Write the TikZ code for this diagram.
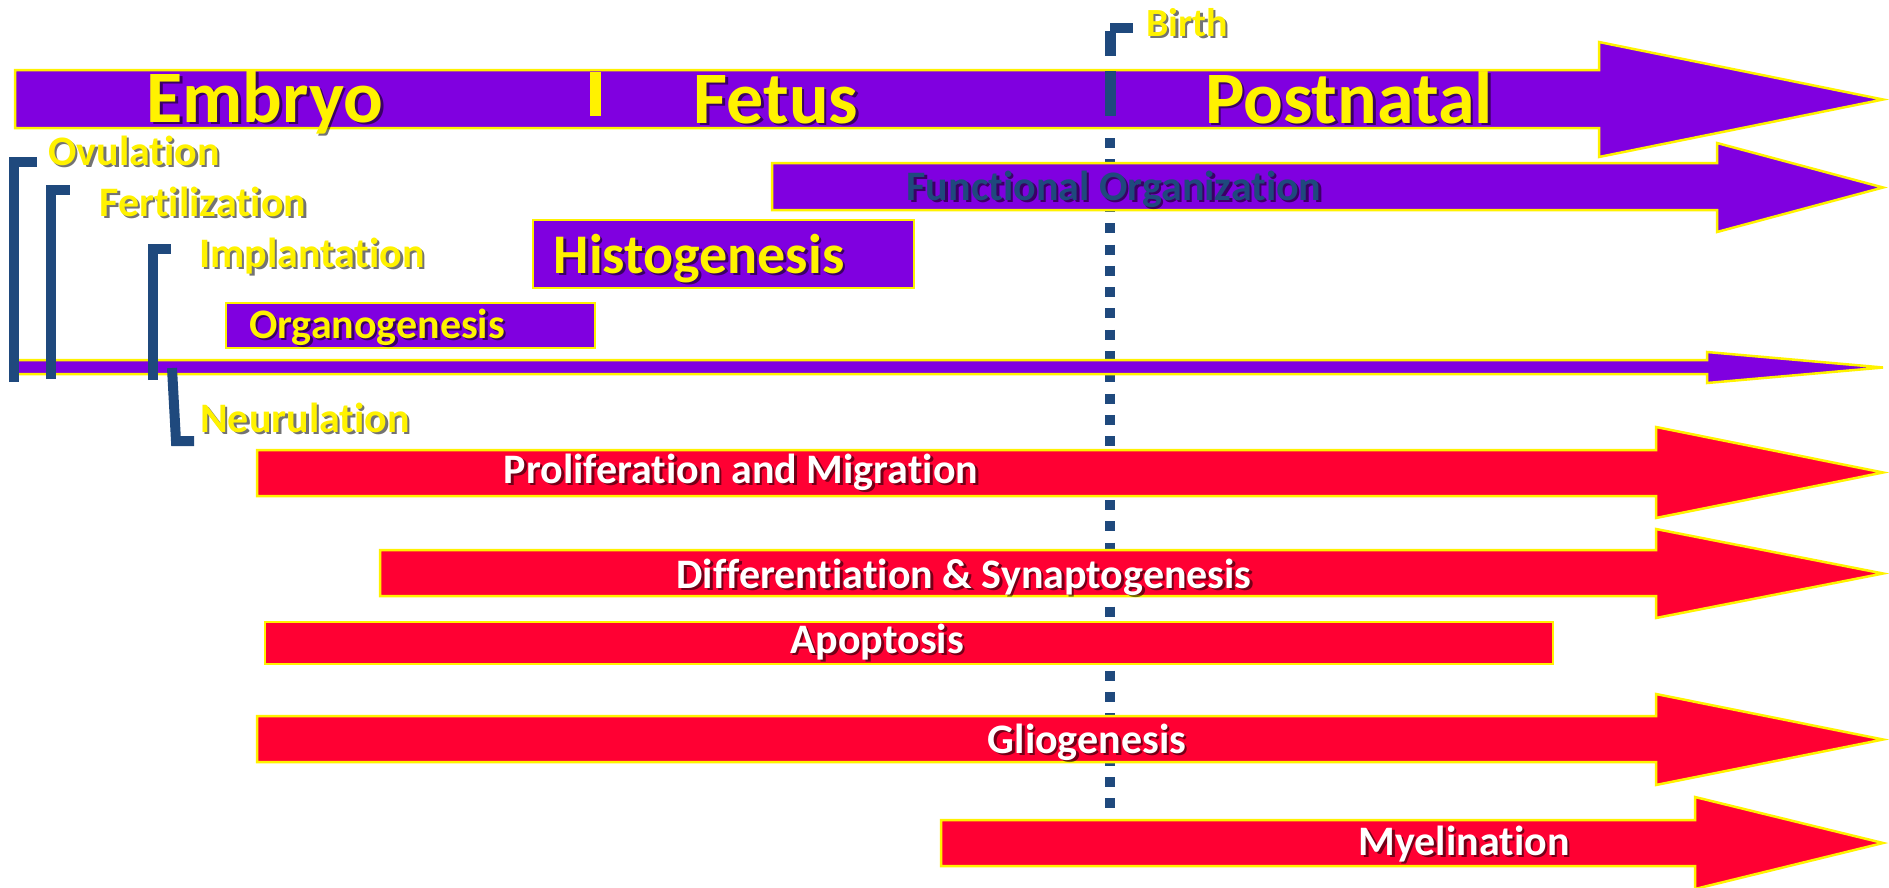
\documentclass[tikz,border=0pt]{standalone}
\usepackage{fontspec}
\setmainfont{Carlito}[Ligatures=NoCommon]
\definecolor{purp}{RGB}{128,0,224}
\definecolor{redbar}{RGB}{255,0,51}
\definecolor{navy}{RGB}{31,73,125}
\newcommand\shlabel[5]{%
  \node[#3,text=black,opacity=.55,anchor=base,xshift=2.5pt,yshift=-2.5pt] at (#2) {#5};
  \node[#3,text=#4,anchor=base] (#1) at (#2) {#5};}
\begin{document}
\begin{tikzpicture}[x=1pt,y=-1pt,line join=miter,
  bar/.style={draw=yellow,line width=2.5pt},
  bracket/.style={draw=navy,line width=10pt},
  stagefont/.style={font=\fontsize{74}{80}\selectfont\bfseries},
  histfont/.style={font=\fontsize{56}{62}\selectfont\bfseries},
  eventfont/.style={font=\fontsize{42}{48}\selectfont\bfseries},
  birthfont/.style={font=\fontsize{40}{46}\selectfont\bfseries}]
\useasboundingbox (0,0) rectangle (1889,887);
\coordinate (B0) at (1110,138); \coordinate (B1) at (1110,810);
\draw[navy,line width=10pt,dash pattern=on 10pt off 11.3pt] (B0)--(B1);
\foreach \xa/\ya/\yb/\xh/\ha/\hb/\col in {15/70/128/1599/42/157/purp,772/163/210/1717/143/232/purp,15/360/374/1707/352/383/purp,257/450/496/1656/427/518/redbar,380/550/596/1656/529/618/redbar,257/716/762/1656/694/785/redbar,941/820/866/1695/797/889/redbar}
  \filldraw[bar,fill=\col] (\xa,\ya)--(\xh,\ya)--(\xh,\ha)--(1883,{(\ha+\hb)/2})--(\xh,\hb)--(\xh,\yb)--(\xa,\yb)--cycle;
\filldraw[bar,fill=purp] (226,303) rectangle (595,348);
\filldraw[bar,fill=purp] (533,220) rectangle (914,288);
\filldraw[bar,fill=redbar] (265,622) rectangle (1553,664);
\fill[yellow] (590,72) rectangle (601,116);
\fill[navy] (1105,71) rectangle (1116,116);
\fill[navy] (1105,31) rectangle (1116,56); \fill[navy] (1110,23) rectangle (1133,33);
\draw[bracket] (14,382)--(14,162)--(37,162);
\draw[bracket] (51,379)--(51,190)--(70,190);
\draw[bracket] (153,380)--(153,248.5)--(171,248.5);
\draw[bracket] (172,368)--(176,441)--(194,441);
\shlabel{embryo}{265,122}{stagefont}{yellow}{Embryo}
\shlabel{fetus}{776,123}{stagefont}{yellow}{Fetus}
\shlabel{postnatal}{1349,123}{stagefont}{yellow}{Postnatal}
\shlabel{birth}{1187,36}{birthfont}{yellow}{Birth}
\shlabel{ovul}{134,165}{eventfont}{yellow}{Ovulation}
\shlabel{fert}{203,216}{eventfont}{yellow}{Fertilization}
\shlabel{impl}{312,267}{eventfont}{yellow}{Implantation}
\shlabel{neur}{305,432}{eventfont}{yellow}{Neurulation}
\shlabel{organo}{377,338}{eventfont}{yellow}{Organogenesis}
\shlabel{histo}{699,273}{histfont}{yellow}{Histogenesis}
\shlabel{funcorg}{1114,200}{eventfont}{navy}{Functional Organization}
\shlabel{prolif}{741,483}{eventfont}{white}{Proliferation and Migration}
\shlabel{diff}{964,588}{eventfont}{white}{Differentiation \& Synaptogenesis}
\shlabel{apop}{877,653}{eventfont}{white}{Apoptosis}
\shlabel{glio}{1087,753}{eventfont}{white}{Gliogenesis}
\shlabel{myel}{1464,855}{eventfont}{white}{Myelination}
\end{tikzpicture}
\end{document}
